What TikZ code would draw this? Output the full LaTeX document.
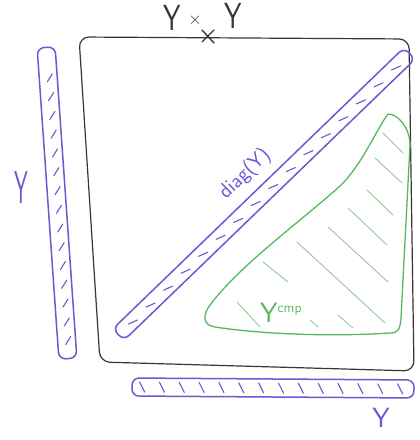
\documentclass[tikz,border=0pt]{standalone}
\usetikzlibrary{calc}
\definecolor{pen}{RGB}{112,86,212}
\definecolor{grn}{RGB}{86,186,90}
\definecolor{lgrn}{RGB}{150,200,150}
\definecolor{ink}{RGB}{55,55,55}
\begin{document}
\begin{tikzpicture}[x=1bp,y=-1bp,line cap=round,line join=round,
  bar/.style={draw=pen,line width=1.5bp,rounded corners=7bp,inner sep=0pt,minimum height=16bp},
  hatch/.style={draw=pen,line width=1.1bp},
  thatch/.style={draw=lgrn,line width=0.9bp},
  lbl/.style={inner sep=0pt,font=\sffamily\fontsize{28}{28}\selectfont}]
\useasboundingbox[fill=white] (0,0) rectangle (419,440);

% product square
\draw[ink,line width=1.2bp,rounded corners=10bp] (79,37) -- (409,39) -- (414,371) -- (100,362) -- cycle;
\coordinate (crossc) at (208,36);
\draw[ink,line width=1.4bp] ($(crossc)+(-6,-6)$) -- ($(crossc)+(6,7)$)
  ($(crossc)+(-6,6)$) -- ($(crossc)+(6,-6)$);

% top label
\node[lbl,ink] (ya) at (172,18) {\scalebox{1}[1.3]{Y}};
\node[inner sep=0pt,ink,font=\sffamily\fontsize{16}{16}\selectfont] (tm) at (195,20) {$\times$};
\node[lbl,ink] (yb) at (233,16) {\scalebox{1}[1.3]{Y}};

% left bar
\node[bar,minimum width=312bp,minimum height=18bp,rotate=94] (lbar) at (57,203) {};
\foreach \t in {0.06,0.12,...,0.95}
  \draw[hatch] ($(lbar.west)!\t!(lbar.east)$) +(-1,4) -- +(4,-4);
\node[lbl,pen,font=\sffamily\fontsize{22}{22}\selectfont] (yl) at (21,188) {\scalebox{1}[2.1]{Y}};

% bottom bar
\node[bar,minimum width=282bp,minimum height=18bp,rotate=-0.4] (bbar) at (273,388) {};
\foreach \t in {0.04,0.11,...,0.97}
  \draw[hatch] ($(bbar.west)!\t!(bbar.east)$) +(-3,-5) -- +(2,5);
\node[lbl,pen] (yr) at (381,418) {Y};

% diagonal bar
\node[bar,minimum width=405bp,minimum height=16bp,rotate=44] (dbar) at (264,194) {};
\foreach \t in {0.05,0.11,...,0.97}
  \draw[hatch] ($(dbar.west)!\t!(dbar.east)$) +(-4,3) -- +(5,-1);
\node[pen,rotate=44,inner sep=0pt,font=\sffamily\fontsize{21}{21}\selectfont] (dl) at (245,174) {diag(Y)};

% complement region
\draw[grn,line width=1.3bp]
  (388,114) .. controls (398,114) and (410,128) .. (410,145)
  -- (401,318) .. controls (400,330) and (398,333) .. (390,333)
  .. controls (330,337) and (260,334) .. (215,327)
  .. controls (203,325) and (202,316) .. (210,305)
  .. controls (240,265) and (300,222) .. (340,186)
  .. controls (362,165) and (376,130) .. (388,114) -- cycle;
\foreach \a/\b in {{383,133}/{403,153},{375,158}/{402,183},{367,190}/{393,215},
  {348,208}/{387,245},{328,227}/{388,282},{297,242}/{385,323},{263,262}/{288,282},
  {237,302}/{260,327},{310,320}/{318,327},{338,315}/{353,328}}
  \draw[thatch] (\a) -- (\b);
\node[grn,inner sep=0pt,font=\sffamily\fontsize{28}{28}\selectfont,anchor=base west] (yc) at (260,322)
  {Y\raisebox{10bp}{\fontsize{14}{14}\selectfont cmp}};
\end{tikzpicture}
\end{document}
